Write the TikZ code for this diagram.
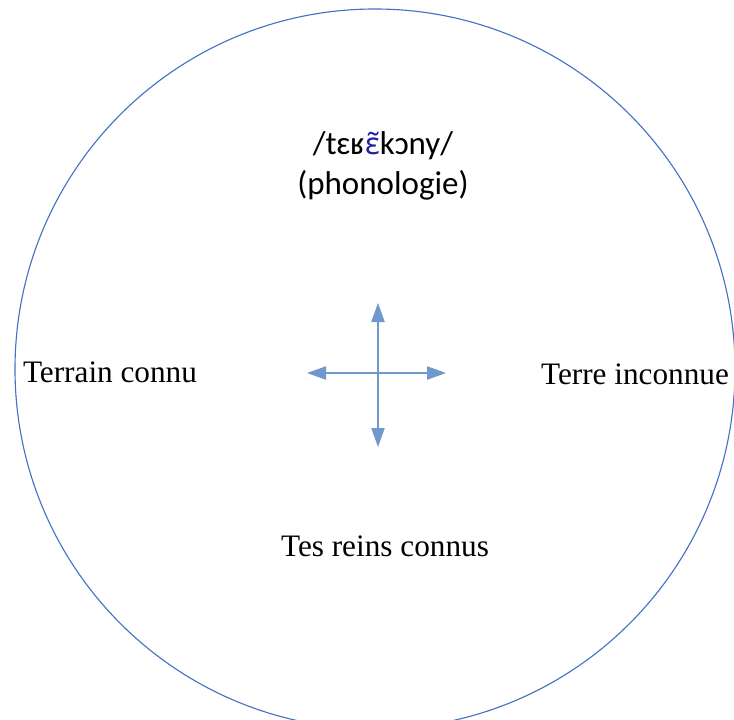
\documentclass[tikz,border=0pt]{standalone}
\usepackage{fontspec}
\setmainfont{Liberation Serif}
\newfontfamily\ipafont{Carlito}
\newfontfamily\nasalfont{Noto Sans}[Scale=0.92]
\usetikzlibrary{arrows.meta}

\definecolor{ringblue}{RGB}{68,114,196}
\definecolor{crossblue}{RGB}{112,152,204}
\definecolor{nasalblue}{RGB}{32,32,160}

\begin{document}
\begin{tikzpicture}[x=0.4pt,y=-0.4pt,
    place/.style={font=\fontsize{12.5}{15}\selectfont},
    phon/.style={font=\ipafont\fontsize{13.2}{16}\selectfont,align=center},
    crossarrow/.style={crossblue,line width=0.6pt,-{Triangle[length=7.6pt,width=5.3pt]}}]
    % Page frame
    \clip (0,0) rectangle (734,720);
    % Outer circle
    \draw[ringblue,line width=0.45pt] (375,369) circle[radius=144pt];

    % Phonology label
    \node[phon] (ipa) at (383,166) {/tɛʁ{\nasalfont\textcolor{nasalblue}{ɛ̃}}kɔny/\\(phonologie)};

    % Left, right and bottom labels
    \node[place] (known) at (110,372) {Terrain connu};
    \node[place] (unknown) at (635,374) {Terre inconnue};
    \node[place] (kidneys) at (385,546) {Tes reins connus};

    % Cross of arrows
    \coordinate (ctr) at (378,373);
    \coordinate (up) at (378,303);
    \coordinate (down) at (378,447);
    \coordinate (west) at (307,373);
    \coordinate (east) at (446,373);
    \draw[crossarrow] (ctr) -- (up);
    \draw[crossarrow] (ctr) -- (down);
    \draw[crossarrow] (ctr) -- (west);
    \draw[crossarrow] (ctr) -- (east);
\end{tikzpicture}
\end{document}
